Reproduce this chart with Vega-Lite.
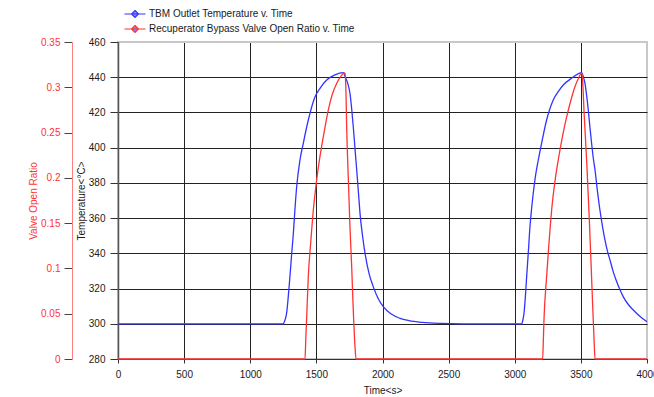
{
  "$schema": "https://vega.github.io/schema/vega-lite/v6.json",
  "width": 529,
  "height": 317,
  "autosize": {"type": "none"},
  "padding": {"left": 118, "top": 42, "right": 7, "bottom": 38},
  "background": "white",
  "config": {
    "font": "Liberation Sans",
    "view": {"stroke": "#c8c8c8", "strokeWidth": 2, "fill": "white"},
    "axis": {"labelFontSize": 10, "titleFontSize": 10, "titleFontWeight": "normal", "labelColor": "#1a1a1a", "titleColor": "#1a1a1a", "tickColor": "#333", "domainColor": "#333"}
  },
  "data": {
    "values": [
      {"s": "TBM Outlet Temperature v. Time", "t": 0, "v": 300},
      {"s": "TBM Outlet Temperature v. Time", "t": 1250, "v": 300},
      {"s": "TBM Outlet Temperature v. Time", "t": 1262, "v": 302},
      {"s": "TBM Outlet Temperature v. Time", "t": 1275, "v": 306},
      {"s": "TBM Outlet Temperature v. Time", "t": 1287, "v": 315},
      {"s": "TBM Outlet Temperature v. Time", "t": 1300, "v": 326.7},
      {"s": "TBM Outlet Temperature v. Time", "t": 1313, "v": 339.5},
      {"s": "TBM Outlet Temperature v. Time", "t": 1326, "v": 351.4},
      {"s": "TBM Outlet Temperature v. Time", "t": 1338, "v": 365},
      {"s": "TBM Outlet Temperature v. Time", "t": 1351, "v": 377.8},
      {"s": "TBM Outlet Temperature v. Time", "t": 1376, "v": 393},
      {"s": "TBM Outlet Temperature v. Time", "t": 1401, "v": 402.5},
      {"s": "TBM Outlet Temperature v. Time", "t": 1439, "v": 415.7},
      {"s": "TBM Outlet Temperature v. Time", "t": 1490, "v": 428.9},
      {"s": "TBM Outlet Temperature v. Time", "t": 1530, "v": 434},
      {"s": "TBM Outlet Temperature v. Time", "t": 1578, "v": 438.4},
      {"s": "TBM Outlet Temperature v. Time", "t": 1640, "v": 441.3},
      {"s": "TBM Outlet Temperature v. Time", "t": 1703, "v": 442.6},
      {"s": "TBM Outlet Temperature v. Time", "t": 1720, "v": 440},
      {"s": "TBM Outlet Temperature v. Time", "t": 1737, "v": 436.5},
      {"s": "TBM Outlet Temperature v. Time", "t": 1754, "v": 430.9},
      {"s": "TBM Outlet Temperature v. Time", "t": 1767, "v": 422},
      {"s": "TBM Outlet Temperature v. Time", "t": 1779, "v": 411.9},
      {"s": "TBM Outlet Temperature v. Time", "t": 1792, "v": 399.5},
      {"s": "TBM Outlet Temperature v. Time", "t": 1805, "v": 387.3},
      {"s": "TBM Outlet Temperature v. Time", "t": 1818, "v": 374.5},
      {"s": "TBM Outlet Temperature v. Time", "t": 1830, "v": 362.7},
      {"s": "TBM Outlet Temperature v. Time", "t": 1849, "v": 350},
      {"s": "TBM Outlet Temperature v. Time", "t": 1868, "v": 340},
      {"s": "TBM Outlet Temperature v. Time", "t": 1900, "v": 328},
      {"s": "TBM Outlet Temperature v. Time", "t": 1930, "v": 321.1},
      {"s": "TBM Outlet Temperature v. Time", "t": 1966, "v": 314.5},
      {"s": "TBM Outlet Temperature v. Time", "t": 2006, "v": 309.7},
      {"s": "TBM Outlet Temperature v. Time", "t": 2066, "v": 305.5},
      {"s": "TBM Outlet Temperature v. Time", "t": 2132, "v": 303.1},
      {"s": "TBM Outlet Temperature v. Time", "t": 2200, "v": 301.8},
      {"s": "TBM Outlet Temperature v. Time", "t": 2300, "v": 300.8},
      {"s": "TBM Outlet Temperature v. Time", "t": 2450, "v": 300.2},
      {"s": "TBM Outlet Temperature v. Time", "t": 2600, "v": 300},
      {"s": "TBM Outlet Temperature v. Time", "t": 3052, "v": 300},
      {"s": "TBM Outlet Temperature v. Time", "t": 3061, "v": 302},
      {"s": "TBM Outlet Temperature v. Time", "t": 3070, "v": 306},
      {"s": "TBM Outlet Temperature v. Time", "t": 3080, "v": 315},
      {"s": "TBM Outlet Temperature v. Time", "t": 3090, "v": 326.7},
      {"s": "TBM Outlet Temperature v. Time", "t": 3103, "v": 341},
      {"s": "TBM Outlet Temperature v. Time", "t": 3115, "v": 355.1},
      {"s": "TBM Outlet Temperature v. Time", "t": 3127, "v": 365},
      {"s": "TBM Outlet Temperature v. Time", "t": 3140, "v": 374.1},
      {"s": "TBM Outlet Temperature v. Time", "t": 3158, "v": 384.5},
      {"s": "TBM Outlet Temperature v. Time", "t": 3178, "v": 393},
      {"s": "TBM Outlet Temperature v. Time", "t": 3203, "v": 402.5},
      {"s": "TBM Outlet Temperature v. Time", "t": 3241, "v": 415.7},
      {"s": "TBM Outlet Temperature v. Time", "t": 3291, "v": 427.1},
      {"s": "TBM Outlet Temperature v. Time", "t": 3330, "v": 432},
      {"s": "TBM Outlet Temperature v. Time", "t": 3367, "v": 435.6},
      {"s": "TBM Outlet Temperature v. Time", "t": 3430, "v": 439.4},
      {"s": "TBM Outlet Temperature v. Time", "t": 3506, "v": 442.6},
      {"s": "TBM Outlet Temperature v. Time", "t": 3518, "v": 440.5},
      {"s": "TBM Outlet Temperature v. Time", "t": 3531, "v": 436.5},
      {"s": "TBM Outlet Temperature v. Time", "t": 3543, "v": 430},
      {"s": "TBM Outlet Temperature v. Time", "t": 3556, "v": 421.4},
      {"s": "TBM Outlet Temperature v. Time", "t": 3568, "v": 412},
      {"s": "TBM Outlet Temperature v. Time", "t": 3581, "v": 402.5},
      {"s": "TBM Outlet Temperature v. Time", "t": 3594, "v": 394},
      {"s": "TBM Outlet Temperature v. Time", "t": 3607, "v": 387.3},
      {"s": "TBM Outlet Temperature v. Time", "t": 3625, "v": 375.5},
      {"s": "TBM Outlet Temperature v. Time", "t": 3644, "v": 364.6},
      {"s": "TBM Outlet Temperature v. Time", "t": 3663, "v": 355.5},
      {"s": "TBM Outlet Temperature v. Time", "t": 3682, "v": 347.6},
      {"s": "TBM Outlet Temperature v. Time", "t": 3700, "v": 341.5},
      {"s": "TBM Outlet Temperature v. Time", "t": 3720, "v": 336.2},
      {"s": "TBM Outlet Temperature v. Time", "t": 3745, "v": 329.5},
      {"s": "TBM Outlet Temperature v. Time", "t": 3771, "v": 323.9},
      {"s": "TBM Outlet Temperature v. Time", "t": 3796, "v": 319.3},
      {"s": "TBM Outlet Temperature v. Time", "t": 3820, "v": 315.4},
      {"s": "TBM Outlet Temperature v. Time", "t": 3860, "v": 310.8},
      {"s": "TBM Outlet Temperature v. Time", "t": 3896, "v": 307.8},
      {"s": "TBM Outlet Temperature v. Time", "t": 3950, "v": 304},
      {"s": "TBM Outlet Temperature v. Time", "t": 4000, "v": 301.1},
      {"s": "Recuperator Bypass Valve Open Ratio v. Time", "t": 0, "v": 0},
      {"s": "Recuperator Bypass Valve Open Ratio v. Time", "t": 1414, "v": 0},
      {"s": "Recuperator Bypass Valve Open Ratio v. Time", "t": 1420, "v": 0.022},
      {"s": "Recuperator Bypass Valve Open Ratio v. Time", "t": 1427, "v": 0.047},
      {"s": "Recuperator Bypass Valve Open Ratio v. Time", "t": 1439, "v": 0.091},
      {"s": "Recuperator Bypass Valve Open Ratio v. Time", "t": 1458, "v": 0.13},
      {"s": "Recuperator Bypass Valve Open Ratio v. Time", "t": 1477, "v": 0.1645},
      {"s": "Recuperator Bypass Valve Open Ratio v. Time", "t": 1500, "v": 0.195},
      {"s": "Recuperator Bypass Valve Open Ratio v. Time", "t": 1527, "v": 0.2234},
      {"s": "Recuperator Bypass Valve Open Ratio v. Time", "t": 1558, "v": 0.25},
      {"s": "Recuperator Bypass Valve Open Ratio v. Time", "t": 1590, "v": 0.2749},
      {"s": "Recuperator Bypass Valve Open Ratio v. Time", "t": 1620, "v": 0.292},
      {"s": "Recuperator Bypass Valve Open Ratio v. Time", "t": 1654, "v": 0.3044},
      {"s": "Recuperator Bypass Valve Open Ratio v. Time", "t": 1685, "v": 0.312},
      {"s": "Recuperator Bypass Valve Open Ratio v. Time", "t": 1711, "v": 0.316},
      {"s": "Recuperator Bypass Valve Open Ratio v. Time", "t": 1716, "v": 0.3154},
      {"s": "Recuperator Bypass Valve Open Ratio v. Time", "t": 1724, "v": 0.2933},
      {"s": "Recuperator Bypass Valve Open Ratio v. Time", "t": 1729, "v": 0.2565},
      {"s": "Recuperator Bypass Valve Open Ratio v. Time", "t": 1741, "v": 0.2013},
      {"s": "Recuperator Bypass Valve Open Ratio v. Time", "t": 1754, "v": 0.146},
      {"s": "Recuperator Bypass Valve Open Ratio v. Time", "t": 1767, "v": 0.1019},
      {"s": "Recuperator Bypass Valve Open Ratio v. Time", "t": 1779, "v": 0.0541},
      {"s": "Recuperator Bypass Valve Open Ratio v. Time", "t": 1792, "v": 0.0136},
      {"s": "Recuperator Bypass Valve Open Ratio v. Time", "t": 1800, "v": 0},
      {"s": "Recuperator Bypass Valve Open Ratio v. Time", "t": 3211, "v": 0},
      {"s": "Recuperator Bypass Valve Open Ratio v. Time", "t": 3216, "v": 0.02},
      {"s": "Recuperator Bypass Valve Open Ratio v. Time", "t": 3221, "v": 0.043},
      {"s": "Recuperator Bypass Valve Open Ratio v. Time", "t": 3241, "v": 0.091},
      {"s": "Recuperator Bypass Valve Open Ratio v. Time", "t": 3260, "v": 0.13},
      {"s": "Recuperator Bypass Valve Open Ratio v. Time", "t": 3279, "v": 0.1645},
      {"s": "Recuperator Bypass Valve Open Ratio v. Time", "t": 3303, "v": 0.195},
      {"s": "Recuperator Bypass Valve Open Ratio v. Time", "t": 3329, "v": 0.2197},
      {"s": "Recuperator Bypass Valve Open Ratio v. Time", "t": 3360, "v": 0.245},
      {"s": "Recuperator Bypass Valve Open Ratio v. Time", "t": 3393, "v": 0.2675},
      {"s": "Recuperator Bypass Valve Open Ratio v. Time", "t": 3425, "v": 0.286},
      {"s": "Recuperator Bypass Valve Open Ratio v. Time", "t": 3455, "v": 0.3006},
      {"s": "Recuperator Bypass Valve Open Ratio v. Time", "t": 3482, "v": 0.31},
      {"s": "Recuperator Bypass Valve Open Ratio v. Time", "t": 3506, "v": 0.316},
      {"s": "Recuperator Bypass Valve Open Ratio v. Time", "t": 3512, "v": 0.31},
      {"s": "Recuperator Bypass Valve Open Ratio v. Time", "t": 3525, "v": 0.27},
      {"s": "Recuperator Bypass Valve Open Ratio v. Time", "t": 3545, "v": 0.215},
      {"s": "Recuperator Bypass Valve Open Ratio v. Time", "t": 3565, "v": 0.15},
      {"s": "Recuperator Bypass Valve Open Ratio v. Time", "t": 3585, "v": 0.075},
      {"s": "Recuperator Bypass Valve Open Ratio v. Time", "t": 3600, "v": 0.02},
      {"s": "Recuperator Bypass Valve Open Ratio v. Time", "t": 3607, "v": 0},
      {"s": "Recuperator Bypass Valve Open Ratio v. Time", "t": 4000, "v": 0}
    ]
  },
  "layer": [
    {
      "transform": [{"filter": "datum.s == 'TBM Outlet Temperature v. Time'"}],
      "mark": {"type": "line", "interpolate": "monotone", "strokeWidth": 1.3},
      "encoding": {
        "x": {
          "field": "t", "type": "quantitative",
          "scale": {"domain": [0, 4000], "nice": false},
          "axis": {
            "title": "Time<s>",
            "values": [0, 500, 1000, 1500, 2000, 2500, 3000, 3500, 4000],
            "format": "d",
            "tickSize": 4, "labelPadding": 6, "titlePadding": 6, "labelFlush": false,
            "grid": true,
            "gridColor": {"condition": {"test": "datum.value >= 4000", "value": "#c8c8c8"}, "value": "#222"},
            "gridWidth": 1
          }
        },
        "y": {
          "field": "v", "type": "quantitative",
          "scale": {"domain": [280, 460], "nice": false, "zero": false},
          "axis": {
            "title": "Temperature<°C>",
            "values": [280, 300, 320, 340, 360, 380, 400, 420, 440, 460],
            "tickSize": 8, "labelPadding": 5, "titlePadding": 2,
            "domainColor": "#555", "domainWidth": 1.5,
            "grid": true,
            "gridColor": {"condition": {"test": "datum.value >= 460", "value": "#c8c8c8"}, "value": "#222"},
            "gridWidth": 1
          }
        },
        "color": {
          "field": "s", "type": "nominal",
          "scale": {
            "domain": ["TBM Outlet Temperature v. Time", "Recuperator Bypass Valve Open Ratio v. Time"],
            "range": ["#3333ff", "#ff3333"]
          },
          "legend": {
            "orient": "none", "legendX": 11, "legendY": -34, "title": null,
            "symbolType": "M-2.1,0L2.1,0M0,-0.7L0.7,0L0,0.7L-0.7,0Z",
            "symbolSize": 100, "symbolStrokeWidth": 1.2,
            "labelFontSize": 10, "labelColor": "#1a1a1a", "labelOffset": 8, "rowPadding": 3,
            "labelLimit": 400,
            "encode": {"symbols": {"update": {"fill": {"value": "#8a8aff"}}}}
          }
        }
      }
    },
    {
      "transform": [{"filter": "datum.s == 'Recuperator Bypass Valve Open Ratio v. Time'"}],
      "mark": {"type": "line", "interpolate": "monotone", "strokeWidth": 1.3},
      "encoding": {
        "x": {"field": "t", "type": "quantitative"},
        "y": {
          "field": "v", "type": "quantitative",
          "scale": {"domain": [0, 0.35], "nice": false},
          "axis": {
            "orient": "left", "offset": 46,
            "title": "Valve Open Ratio",
            "values": [0, 0.05, 0.1, 0.15, 0.2, 0.25, 0.3, 0.35],
            "format": ".2~f",
            "tickSize": 8, "labelPadding": 4, "titlePadding": 2,
            "labelColor": "#ff3333", "titleColor": "#ff3333",
            "domainColor": "#ff8080", "tickColor": "#444",
            "grid": false
          }
        },
        "color": {"field": "s", "type": "nominal"}
      }
    }
  ],
  "resolve": {"scale": {"y": "independent"}, "axis": {"y": "independent"}}
}
